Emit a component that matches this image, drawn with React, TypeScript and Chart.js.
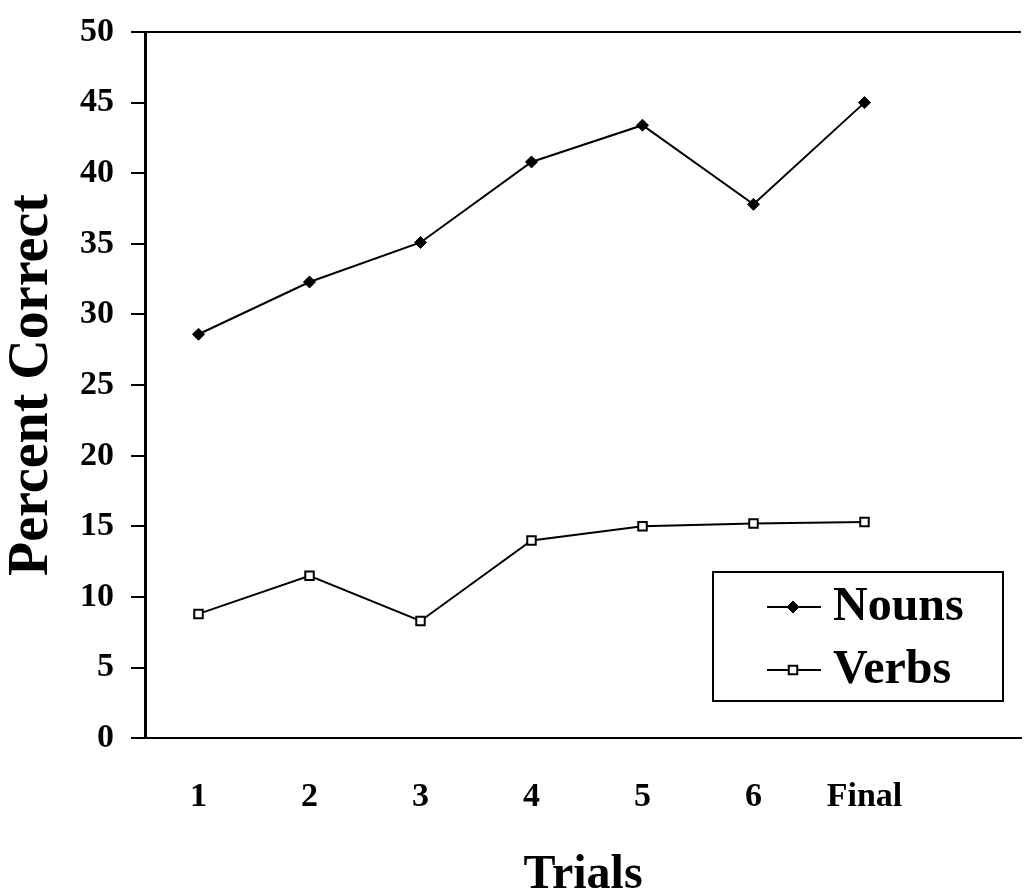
import React, { useEffect, useRef } from 'react';
import { Chart, registerables } from 'chart.js';

Chart.register(...registerables);

const trialLabels = ['1', '2', '3', '4', '5', '6', 'Final'];
const trialPositions = [1, 2, 3, 4, 5, 6, 7];
const nounsValues = [28.6, 32.3, 35.1, 40.8, 43.4, 37.8, 45.0];
const verbsValues = [8.8, 11.5, 8.3, 14.0, 15.0, 15.2, 15.3];
const seriesLabels = ['Nouns', 'Verbs'];
const yTitle = 'Percent Correct';
const xTitle = 'Trials';

const FONT = "'Liberation Serif', 'Times New Roman', serif";

const boxLegend = {
  id: 'boxLegend',
  afterDraw(chart: any, _args: any, opts: any) {
    const ctx = chart.ctx as CanvasRenderingContext2D;
    const { left, top, width, height, lineStart, lineEnd, markerX, textX, firstRow, rowGap, fontSize } = opts;
    ctx.save();
    ctx.fillStyle = '#ffffff';
    ctx.fillRect(left, top, width, height);
    ctx.strokeStyle = '#000';
    ctx.lineWidth = 2;
    ctx.strokeRect(left, top, width, height);
    chart.data.datasets.forEach((ds: any, i: number) => {
      const y = top + firstRow + i * rowGap;
      ctx.strokeStyle = '#000';
      ctx.lineWidth = 2;
      ctx.beginPath();
      ctx.moveTo(left + lineStart, y);
      ctx.lineTo(left + lineEnd, y);
      ctx.stroke();
      const mx = left + markerX;
      const r = ds.pointRadius;
      ctx.beginPath();
      if (ds.pointStyle === 'rectRot') {
        ctx.moveTo(mx, y - r);
        ctx.lineTo(mx + r, y);
        ctx.lineTo(mx, y + r);
        ctx.lineTo(mx - r, y);
        ctx.closePath();
      } else {
        const s = r * Math.SQRT1_2;
        ctx.rect(mx - s, y - s, s * 2, s * 2);
      }
      ctx.fillStyle = ds.pointBackgroundColor;
      ctx.fill();
      ctx.lineWidth = ds.pointBorderWidth;
      ctx.strokeStyle = ds.pointBorderColor;
      ctx.stroke();
      ctx.fillStyle = '#000';
      ctx.font = `bold ${fontSize}px ${FONT}`;
      ctx.textAlign = 'left';
      ctx.textBaseline = 'middle';
      ctx.fillText(ds.label, left + textX, y + 1);
    });
    ctx.restore();
  },
};

export default function App() {
  const ref = useRef<HTMLCanvasElement | null>(null);

  useEffect(() => {
    document.body.style.margin = '0';
    const canvas = ref.current;
    if (!canvas) return;
    const chart = new Chart(canvas, {
      type: 'line',
      data: {
        datasets: [
          {
            label: seriesLabels[0],
            data: trialPositions.map((x, i) => ({ x, y: nounsValues[i] })),
            borderColor: '#000',
            borderWidth: 2,
            pointStyle: 'rectRot',
            pointRadius: 6,
            pointBackgroundColor: '#000',
            pointBorderColor: '#000',
            pointBorderWidth: 1,
            tension: 0,
          },
          {
            label: seriesLabels[1],
            data: trialPositions.map((x, i) => ({ x, y: verbsValues[i] })),
            borderColor: '#000',
            borderWidth: 2,
            pointStyle: 'rect',
            pointRadius: 6,
            pointBackgroundColor: '#fff',
            pointBorderColor: '#000',
            pointBorderWidth: 2,
            tension: 0,
          },
        ],
      },
      options: {
        responsive: false,
        animation: false,
        layout: { padding: { top: 32, right: 0, bottom: 0, left: 0 } },
        plugins: {
          legend: { display: false },
          tooltip: { enabled: false },
          boxLegend: {
            left: 713,
            top: 572,
            width: 290,
            height: 129,
            lineStart: 54,
            lineEnd: 108,
            markerX: 80,
            textX: 120,
            firstRow: 35,
            rowGap: 63,
            fontSize: 48,
          },
        } as any,
        scales: {
          x: {
            type: 'linear',
            min: 0.518,
            max: 8.41,
            afterBuildTicks: (s: any) => {
              s.ticks = trialPositions.map((v) => ({ value: v }));
            },
            ticks: {
              autoSkip: false,
              maxRotation: 0,
              padding: 39,
              color: '#000',
              font: { family: FONT, size: 34, weight: 'bold' },
              callback: (v: any) => {
                const idx = trialPositions.indexOf(Number(v));
                return idx >= 0 ? trialLabels[idx] : '';
              },
            },
            grid: { display: true, drawOnChartArea: false, drawTicks: false },
            border: { display: true, color: '#000', width: 2 },
            title: {
              display: true,
              text: xTitle,
              color: '#000',
              font: { family: FONT, size: 48, weight: 'bold', lineHeight: 0.75 },
              padding: { top: 1, bottom: 0 },
            },
            afterFit: (s: any) => {
              s.paddingLeft = 0;
              s.paddingRight = 0;
            },
          },
          y: {
            type: 'linear',
            min: 0,
            max: 50,
            ticks: {
              stepSize: 5,
              padding: 17,
              color: '#000',
              font: { family: FONT, size: 34, weight: 'bold' },
            },
            grid: {
              drawOnChartArea: true,
              color: (c: any) => (c.tick && c.tick.value === 50 ? '#000' : 'rgba(0,0,0,0)'),
              lineWidth: 2,
              tickColor: '#000',
              tickLength: 14,
              tickWidth: 2,
            },
            border: { display: true, color: '#000', width: 3 },
            title: {
              display: true,
              text: yTitle,
              color: '#000',
              font: { family: FONT, size: 56, weight: 'bold', lineHeight: 1 },
              padding: { top: 5, bottom: 10 },
            },
            afterFit: (s: any) => {
              s.width = 145;
              s.paddingTop = 0;
              s.paddingBottom = 0;
            },
          },
        },
      },
      plugins: [boxLegend],
    } as any);
    return () => chart.destroy();
  }, []);

  return (
    <div style={{ position: 'absolute', left: 0, top: 0, width: 1029, height: 894 }}>
      <canvas ref={ref} width={1029} height={894} style={{ display: 'block', width: 1029, height: 894 }} />
    </div>
  );
}
